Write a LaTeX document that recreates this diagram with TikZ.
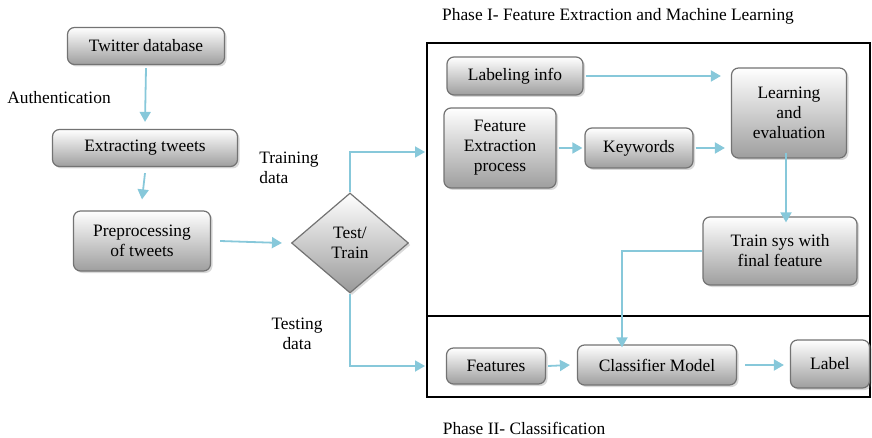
\documentclass[tikz,border=0pt]{standalone}
\usepackage{fontspec}
\setmainfont{Liberation Serif}
\usetikzlibrary{shapes.geometric,arrows.meta,shadows}
\definecolor{flowblue}{RGB}{135,200,218}
\tikzset{
  box/.style={draw=black!55, line width=1.2pt, rounded corners=7pt,
    top color=white, bottom color=black!38, align=center,
    drop shadow={opacity=0.3, shadow xshift=2pt, shadow yshift=-2pt}},
  decide/.style={diamond, draw=black!55, line width=1.2pt,
    top color=white, bottom color=black!40, align=center, inner sep=0pt,
    drop shadow={opacity=0.3, shadow xshift=2pt, shadow yshift=-2pt}},
  flow/.style={draw=flowblue, line width=1.8pt,
    -{Triangle[width=11pt,length=10pt]}},
  txt/.style={align=left}
}
\begin{document}
\begin{tikzpicture}[x=1pt,y=-1pt,every node/.style={font=\fontsize{17.4}{20}\selectfont}]
\useasboundingbox (0,0) rectangle (872,438);
% left column
\node[box, minimum width=157, minimum height=37] (tw) at (146,46) {Twitter database};
\node[box, minimum width=185, minimum height=37] (ext) at (145,148) {Extracting tweets};
\node[box, minimum width=137, minimum height=60] (pre) at (142,241) {Preprocessing\\of tweets};
\node[decide, minimum width=117, minimum height=100] (tt) at (350,243) {Test/\\Train};
\node[txt] (auth) at (59,98) {Authentication};
\node[txt] (trd) at (289,168) {Training\\data};
\node[txt, align=center] (ted) at (297,334) {Testing\\data};
% phase boxes
\draw[line width=1.2pt] (427,43) rectangle (870,397);
\draw[line width=1.2pt] (427,316) -- (870,316);
\node (ph1) at (618,16) {Phase I- Feature Extraction and Machine Learning};
\node[inner sep=1pt] (ph2) at (524,428) {Phase II- Classification};
% phase I
\node[box, minimum width=136, minimum height=38] (lab) at (515,76) {Labeling info};
\node[box, minimum width=112, minimum height=80] (fep) at (500,148) {Feature\\Extraction\\process};
\node[box, minimum width=108, minimum height=40] (kw) at (639,148) {Keywords};
\node[box, minimum width=115, minimum height=90] (le) at (789,113) {Learning\\and\\evaluation};
\node[box, minimum width=154, minimum height=68] (ts) at (780,251) {Train sys with\\final feature};
% phase II
\node[box, minimum width=99, minimum height=36] (feat) at (496,366) {Features};
\node[box, minimum width=159, minimum height=40] (cm) at (657,365) {Classifier Model};
\node[box, minimum width=79, minimum height=48] (lbl) at (830,364) {Label};
% connectors
\coordinate (trn) at (425,152);
\coordinate (tst) at (425,366);
\draw[flow] ([yshift=-3pt]tw.south) -- ([yshift=7pt]ext.north);
\draw[flow] ([yshift=-6pt]ext.south) -- ([yshift=11pt]pre.north);
\draw[flow] ([xshift=9pt]pre.east) -- ([xshift=-9pt]tt.west);
\draw[flow] (tt.north) |- (trn);
\draw[flow] (tt.south) |- (tst);
\draw[flow] ([xshift=2pt]lab.east) -- ([xshift=-10pt]le.west |- lab.east);
\draw[flow] ([xshift=2pt]fep.east) -- ([xshift=-2pt]kw.west);
\draw[flow] ([xshift=2pt]kw.east) -- ([xshift=-6pt]le.west |- kw.east);
\draw[flow] ([xshift=-3pt,yshift=6pt]le.south) -- ([xshift=6pt,yshift=-6pt]ts.north);
\draw[flow] (ts.west) -| ([xshift=-35pt,yshift=-3pt]cm.north);
\draw[flow] ([xshift=2pt]feat.east) -- ([xshift=-7pt]cm.west);
\draw[flow] ([xshift=8pt]cm.east) -- ([xshift=-6pt]lbl.west |- cm.east);
\end{tikzpicture}
\end{document}
